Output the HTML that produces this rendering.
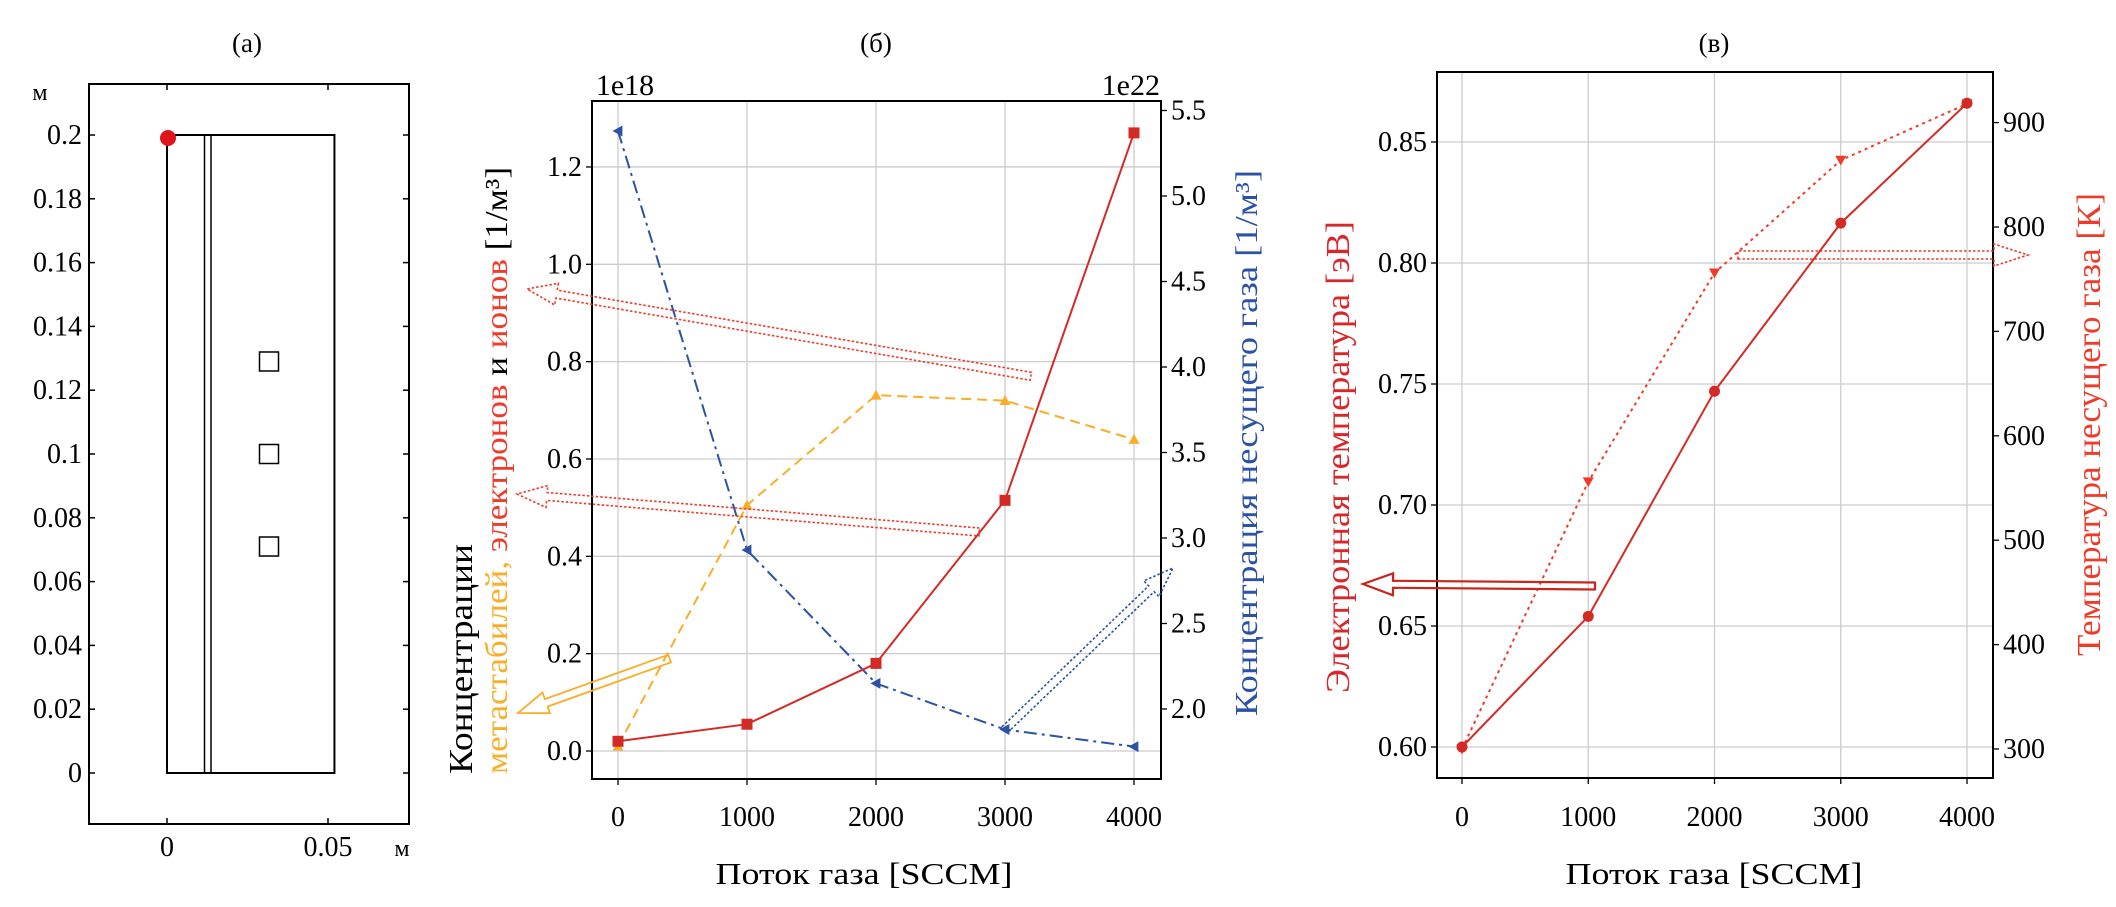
<!DOCTYPE html>
<html><head><meta charset="utf-8">
<style>
html,body{margin:0;padding:0;background:#fff;}
svg, svg text{font-family:"Liberation Serif","DejaVu Serif",serif;}
</style></head>
<body>
<svg id="fig" width="2116" height="902" viewBox="0 0 2116 902" xmlns="http://www.w3.org/2000/svg" font-family="Liberation Serif, DejaVu Serif, serif"></svg>
<script>
// ---- Panel (б) data ----
const flowB = [0, 1000, 2000, 3000, 4000];
const electronsIons = [0.02, 0.055, 0.18, 0.515, 1.27];
const metastables = [0.01, 0.505, 0.731, 0.72, 0.64];
const carrierGasConc = [5.38, 2.93, 2.15, 1.88, 1.78];
const bXTicks = [0, 1000, 2000, 3000, 4000];
const bLeftTicks = [0.0, 0.2, 0.4, 0.6, 0.8, 1.0, 1.2];
const bRightTicks = [2.0, 2.5, 3.0, 3.5, 4.0, 4.5, 5.0, 5.5];
// ---- Panel (в) data ----
const flowV = [0, 1000, 2000, 3000, 4000];
const electronTemp = [0.60, 0.654, 0.747, 0.8165, 0.866];
const gasTemp = [300, 556, 756, 864, 918];
const vLeftTicks = [0.60, 0.65, 0.70, 0.75, 0.80, 0.85];
const vRightTicks = [300, 400, 500, 600, 700, 800, 900];
// ---- Panel (a) ----
const aYTicks = [0, 0.02, 0.04, 0.06, 0.08, 0.1, 0.12, 0.14, 0.16, 0.18, 0.2];
const aYLabels = ["0","0.02","0.04","0.06","0.08","0.1","0.12","0.14","0.16","0.18","0.2"];
const aXTicks = [0, 0.05];
const aXLabels = ["0","0.05"];
const probeY = [0.129, 0.1, 0.071];

const NS = "http://www.w3.org/2000/svg";
const svg = document.getElementById('fig');
const FF = '"Liberation Serif", "DejaVu Serif", serif';
function el(tag, attrs, parent) {
  const e = document.createElementNS(NS, tag);
  for (const k in attrs) e.setAttribute(k, attrs[k]);
  (parent || svg).appendChild(e);
  return e;
}
function txt(s, x, y, size, anchor, color, parent) {
  const t = el('text', {x: x, y: y, 'font-size': size, 'text-anchor': anchor || 'middle', fill: color || '#000', style: 'font-family:' + FF}, parent);
  t.textContent = s;
  return t;
}
const RED = '#d42a26', ORANGE = '#f9ae2a', BLUE = '#2b52a4', RED2 = '#ee3b2a';
const GRID = '#cccccc';
const TS = 28;

// ================= Panel (a) =================
const gA = el('g', {});


const aX = v => 167 + v * 3220;
const aY = v => 773 - v * 3190;
let t = txt('(a)', 247, 52, 27, 'middle', '#000', gA);
 
let fr = el('rect', {x: 89, y: 84, width: 320, height: 740, fill: 'none', stroke: '#000', 'stroke-width': 2}, gA);
 
aYTicks.forEach((v, i) => {
  const y = aY(v);
  el('line', {x1: 89, y1: y, x2: 95, y2: y, stroke: '#000', 'stroke-width': 1.5}, gA);
  el('line', {x1: 403, y1: y, x2: 409, y2: y, stroke: '#000', 'stroke-width': 1.5}, gA);
  const l = txt(aYLabels[i], 82, y + 9, TS, 'end', '#000', gA);
   
});
aXTicks.forEach((v, i) => {
  const x = aX(v);
  el('line', {x1: x, y1: 824, x2: x, y2: 818, stroke: '#000', 'stroke-width': 1.5}, gA);
  el('line', {x1: x, y1: 84, x2: x, y2: 90, stroke: '#000', 'stroke-width': 1.5}, gA);
  const l = txt(aXLabels[i], x, 856, TS, 'middle', '#000', gA);
   
});
t = txt('м', 40, 100, 24, 'middle', '#000', gA);
 
t = txt('м', 402, 856, 24, 'middle', '#000', gA);
 
let rr = el('rect', {x: aX(0), y: aY(0.2), width: aX(0.052) - aX(0), height: aY(0) - aY(0.2), fill: 'none', stroke: '#000', 'stroke-width': 2}, gA);
 
el('line', {x1: 204.5, y1: aY(0.2), x2: 204.5, y2: aY(0), stroke: '#000', 'stroke-width': 1.5}, gA);
el('line', {x1: 211, y1: aY(0.2), x2: 211, y2: aY(0), stroke: '#000', 'stroke-width': 1.5}, gA);
probeY.forEach(v => {
  const s = el('rect', {x: 259.5, y: aY(v) - 9.5, width: 19, height: 19, fill: 'none', stroke: '#000', 'stroke-width': 1.5}, gA);
   
});
let dot = el('circle', {cx: 168, cy: 138, r: 8, fill: '#e0151b'}, gA);
 

// ================= helpers =================
function hollowArrow(g, x1, y1, x2, y2, opts) {
  const dx = x2 - x1, dy = y2 - y1, L = Math.hypot(dx, dy);
  const ux = dx / L, uy = dy / L, nx = -uy, ny = ux;
  const sw = opts.shaft / 2, hw = opts.head / 2, hl = opts.hlen;
  const bx = x2 - ux * hl, by = y2 - uy * hl;
  const pts = [
    [x1 + nx * sw, y1 + ny * sw], [bx + nx * sw, by + ny * sw], [bx + nx * hw, by + ny * hw],
    [x2, y2], [bx - nx * hw, by - ny * hw], [bx - nx * sw, by - ny * sw], [x1 - nx * sw, y1 - ny * sw]
  ];
  const p = el('polygon', {points: pts.map(q => q[0].toFixed(1) + ',' + q[1].toFixed(1)).join(' '),
    fill: 'none', stroke: opts.color, 'stroke-width': opts.sw || 1.6, 'stroke-dasharray': opts.dash || 'none', 'stroke-linejoin': 'miter'}, g);
  return p;
}
function marker(g, type, x, y, c, s) {
  let m;
  if (type === 'sq') m = el('rect', {x: x - s, y: y - s, width: 2 * s, height: 2 * s, fill: c}, g);
  else if (type === 'circ') m = el('circle', {cx: x, cy: y, r: s, fill: c}, g);
  else if (type === 'tu') m = el('polygon', {points: `${x},${y - s} ${x + s},${y + s * 0.8} ${x - s},${y + s * 0.8}`, fill: c}, g);
  else if (type === 'td') m = el('polygon', {points: `${x},${y + s} ${x + s},${y - s * 0.8} ${x - s},${y - s * 0.8}`, fill: c}, g);
  else if (type === 'tl') m = el('polygon', {points: `${x - s},${y} ${x + s * 0.8},${y - s} ${x + s * 0.8},${y + s}`, fill: c}, g);
  return m;
}
function series(g, xs, ys, xf, yf, color, dash, mtype, name) {
  const pts = xs.map((v, i) => xf(v).toFixed(1) + ',' + yf(ys[i]).toFixed(1)).join(' ');
  const pl = el('polyline', {points: pts, fill: 'none', stroke: color, 'stroke-width': 2, 'stroke-dasharray': dash}, g);
   
  xs.forEach((v, i) => {
    const m = marker(g, mtype, xf(v), yf(ys[i]), color, 5.5);
     
  });
}
function rotLabel(g, x, y, len, size, parts, name) {
  const tx = el('text', {x: 0, y: 0, 'font-size': size, 'text-anchor': 'start', style: 'font-family:' + FF, transform: `translate(${x},${y}) rotate(-90)`, textLength: len, lengthAdjust: 'spacingAndGlyphs'}, g);
  parts.forEach(p => { const s = el('tspan', {fill: p[1]}, tx); s.textContent = p[0]; });
   
  return tx;
}

// ================= Panel (б) =================
const gB = el('g', {});


const bL = 592, bR = 1161, bT = 101, bB = 779;
const bx = v => 618 + v * 0.129;
const byL = v => 751 - v * 486.7;
const byR = v => 709 - (v - 2.0) * 171;
t = txt('(б)', 876, 52, 27, 'middle', '#000', gB);
 
bXTicks.forEach(v => {
  el('line', {x1: bx(v), y1: bT, x2: bx(v), y2: bB, stroke: GRID, 'stroke-width': 1.3}, gB);
  el('line', {x1: bx(v), y1: bB, x2: bx(v), y2: bB + 6, stroke: '#000', 'stroke-width': 1.3}, gB);
  const l = txt(String(v), bx(v), 826, TS, 'middle', '#000', gB);
   
});
bLeftTicks.forEach(v => {
  el('line', {x1: bL, y1: byL(v), x2: bR, y2: byL(v), stroke: GRID, 'stroke-width': 1.3}, gB);
  el('line', {x1: bL - 6, y1: byL(v), x2: bL, y2: byL(v), stroke: '#000', 'stroke-width': 1.3}, gB);
  const l = txt(v.toFixed(1), bL - 10, byL(v) + 9, TS, 'end', '#000', gB);
   
});
bRightTicks.forEach(v => {
  el('line', {x1: bR, y1: byR(v), x2: bR + 6, y2: byR(v), stroke: '#000', 'stroke-width': 1.3}, gB);
  const l = txt(v.toFixed(1), bR + 10, byR(v) + 9, TS, 'start', '#000', gB);
   
});
fr = el('rect', {x: bL, y: bT, width: bR - bL, height: bB - bT, fill: 'none', stroke: '#000', 'stroke-width': 2}, gB);
 
t = txt('1e18', 625, 95, 30, 'middle', '#000', gB);
 
t = txt('1e22', 1160, 95, 30, 'end', '#000', gB);
 
series(gB, flowB, carrierGasConc, bx, byR, BLUE, '13,5,3,5', 'tl', 'carrier-gas-concentration');
series(gB, flowB, metastables, bx, byL, ORANGE, '10,6', 'tu', 'metastable-concentration');
series(gB, flowB, electronsIons, bx, byL, RED, 'none', 'sq', 'electron-ion-concentration');
let ar;
ar = hollowArrow(gB, bx(3200), byL(0.77), 527, 289, {shaft: 8, head: 22, hlen: 30, color: RED2, dash: '2.5,2'});
 
ar = hollowArrow(gB, bx(2800), byL(0.45), 517, 494, {shaft: 8, head: 22, hlen: 30, color: RED2, dash: '2.5,2'});
 
ar = hollowArrow(gB, bx(400), byL(0.19), 518, 713, {shaft: 8, head: 22, hlen: 30, color: ORANGE, sw: 1.8});
 
ar = hollowArrow(gB, bx(3000), byR(1.88), 1173, 568, {shaft: 8, head: 22, hlen: 30, color: BLUE, dash: '2.5,2'});
 
rotLabel(gB, 472, 774, 230, 34, [['Концентрации', '#000']], 'panel-b-left-axis-title-line1');
rotLabel(gB, 507, 774, 607, 32, [['метастабилей, ', ORANGE], ['электронов ', RED2], ['и ', '#000'], ['ионов ', RED2], ['[1/м³]', '#000']], 'panel-b-left-axis-title-line2');
rotLabel(gB, 1257, 716, 546, 32, [['Концентрация несущего газа [1/м³]', BLUE]], 'panel-b-right-axis-title');
t = txt('Поток газа [SCCM]', 864, 884, 31, 'middle', '#000', gB);
t.setAttribute('textLength', 297); t.setAttribute('lengthAdjust', 'spacingAndGlyphs');
 

// ================= Panel (в) =================
const gV = el('g', {});


const vL = 1437, vR = 1993, vT = 72, vB = 778;
const vx = v => 1462 + v * 0.12625;
const vyL = v => 747 - (v - 0.60) * 2420;
const vyR = v => 749 - (v - 300) * 1.044;
t = txt('(в)', 1714, 52, 27, 'middle', '#000', gV);
 
flowV.forEach(v => {
  el('line', {x1: vx(v), y1: vT, x2: vx(v), y2: vB, stroke: GRID, 'stroke-width': 1.3}, gV);
  el('line', {x1: vx(v), y1: vB, x2: vx(v), y2: vB + 6, stroke: '#000', 'stroke-width': 1.3}, gV);
  const l = txt(String(v), vx(v), 826, TS, 'middle', '#000', gV);
   
});
vLeftTicks.forEach(v => {
  el('line', {x1: vL, y1: vyL(v), x2: vR, y2: vyL(v), stroke: GRID, 'stroke-width': 1.3}, gV);
  el('line', {x1: vL - 6, y1: vyL(v), x2: vL, y2: vyL(v), stroke: '#000', 'stroke-width': 1.3}, gV);
  const l = txt(v.toFixed(2), vL - 10, vyL(v) + 9, TS, 'end', '#000', gV);
   
});
vRightTicks.forEach(v => {
  el('line', {x1: vR, y1: vyR(v), x2: vR + 6, y2: vyR(v), stroke: '#000', 'stroke-width': 1.3}, gV);
  const l = txt(String(v), vR + 10, vyR(v) + 9, TS, 'start', '#000', gV);
   
});
fr = el('rect', {x: vL, y: vT, width: vR - vL, height: vB - vT, fill: 'none', stroke: '#000', 'stroke-width': 2}, gV);
 
series(gV, flowV, gasTemp, vx, vyR, RED2, '3,4', 'td', 'gas-temperature');
series(gV, flowV, electronTemp, vx, vyL, RED, 'none', 'circ', 'electron-temperature');
ar = hollowArrow(gV, 1595, 586, 1363, 584, {shaft: 7, head: 22, hlen: 30, color: '#c8261c', sw: 2.2});
 
ar = hollowArrow(gV, 1738, 255, 2028, 255, {shaft: 8, head: 22, hlen: 34, color: RED2, dash: '2.5,2'});
 
rotLabel(gV, 1349, 693, 472, 34, [['Электронная температура [эВ]', '#d8262b']], 'panel-v-left-axis-title');
rotLabel(gV, 2100, 656, 463, 34, [['Температура несущего газа [К]', RED2]], 'panel-v-right-axis-title');
t = txt('Поток газа [SCCM]', 1714, 884, 31, 'middle', '#000', gV);
t.setAttribute('textLength', 297); t.setAttribute('lengthAdjust', 'spacingAndGlyphs');
 
</script>
</body></html>
